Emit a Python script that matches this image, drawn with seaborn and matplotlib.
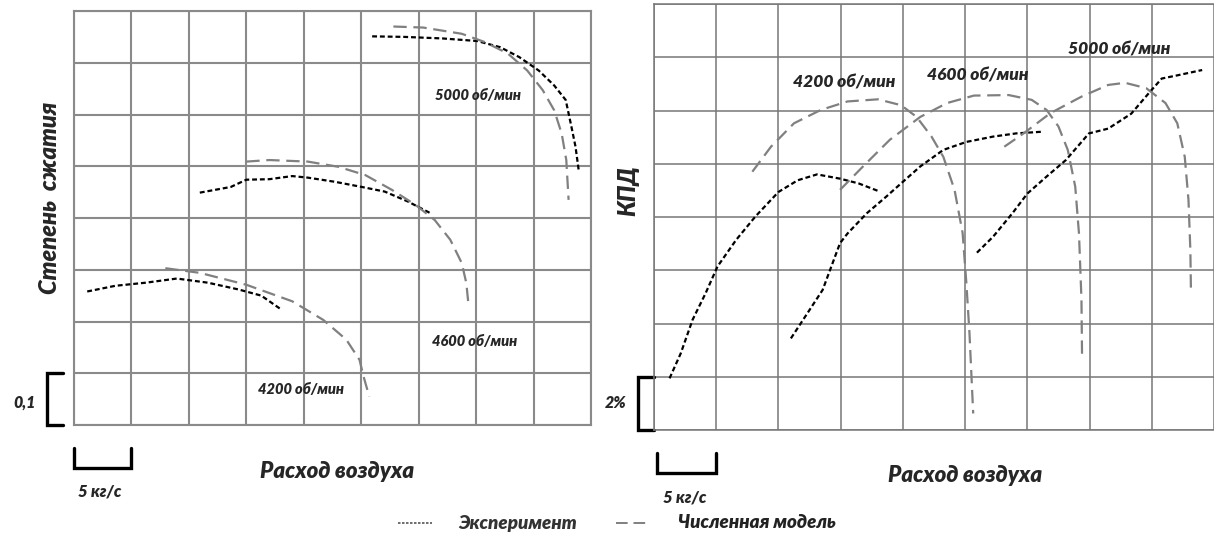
import numpy as np
import pandas as pd
import matplotlib
matplotlib.use("Agg")
import matplotlib.pyplot as plt
from matplotlib.lines import Line2D
import seaborn as sns

W, H = 1214, 540

# x: air flow in grid cells (1 cell = 5 kg/s)
# left y: pressure ratio in cells of 0.1, right y: efficiency in cells of 2 %
rpm_labels = ["4200 об/мин", "4600 об/мин", "5000 об/мин"]

# ---- pressure ratio (left panel)
pr_exp_4200_x = [0.23, 0.72, 1.25, 1.79, 2.33, 2.86, 3.26, 3.61]
pr_exp_4200_y = [2.58, 2.69, 2.75, 2.83, 2.75, 2.62, 2.50, 2.23]
pr_mod_4200_x = [1.59, 2.19, 3.00, 3.80, 4.34, 4.74, 4.97, 5.04, 5.14]
pr_mod_4200_y = [3.03, 2.94, 2.71, 2.39, 2.03, 1.65, 1.26, 0.94, 0.55]

pr_exp_4600_x = [2.19, 2.73, 3.00, 3.40, 3.80, 4.07, 4.54, 5.01, 5.41, 5.81, 6.21]
pr_exp_4600_y = [4.49, 4.60, 4.74, 4.75, 4.81, 4.78, 4.70, 4.60, 4.51, 4.32, 4.09]
pr_mod_4600_x = [3.00, 3.40, 4.07, 4.60, 5.07, 5.54, 5.95, 6.28, 6.55, 6.75, 6.83, 6.87]
pr_mod_4600_y = [5.09, 5.12, 5.09, 4.99, 4.83, 4.54, 4.25, 3.96, 3.58, 3.13, 2.74, 2.29]

pr_exp_5000_x = [5.19, 5.74, 6.41, 7.02, 7.42, 7.75, 8.09, 8.36, 8.56, 8.66, 8.73, 8.79]
pr_exp_5000_y = [7.51, 7.50, 7.47, 7.42, 7.30, 7.11, 6.85, 6.56, 6.28, 5.76, 5.38, 4.89]
pr_mod_5000_x = [5.56, 6.08, 6.75, 7.15, 7.55, 7.89, 8.16, 8.36, 8.49, 8.57, 8.61]
pr_mod_5000_y = [7.70, 7.68, 7.56, 7.40, 7.18, 6.85, 6.47, 6.08, 5.63, 5.12, 4.35]

# ---- efficiency (right panel)
eff_exp_4200_x = [0.25, 0.43, 0.62, 0.83, 1.02, 1.32, 1.63, 2.00, 2.31, 2.62, 2.99, 3.29, 3.60]
eff_exp_4200_y = [0.97, 1.44, 2.07, 2.57, 3.07, 3.57, 4.01, 4.47, 4.69, 4.80, 4.72, 4.63, 4.49]
eff_mod_4200_x = [1.58, 1.88, 2.25, 2.68, 3.11, 3.60, 3.97, 4.22, 4.46, 4.65, 4.83, 4.96, 5.02, 5.07, 5.13]
eff_mod_4200_y = [4.85, 5.32, 5.76, 6.01, 6.17, 6.21, 6.10, 5.88, 5.51, 5.13, 4.51, 3.70, 2.76, 1.82, 0.31]

eff_exp_4600_x = [2.20, 2.43, 2.71, 2.99, 3.11, 3.42, 3.73, 3.97, 4.28, 4.65, 5.02, 5.45, 5.82, 6.22]
eff_exp_4600_y = [1.72, 2.13, 2.63, 3.51, 3.69, 4.07, 4.38, 4.63, 4.95, 5.26, 5.41, 5.51, 5.57, 5.60]
eff_mod_4600_x = [2.99, 3.36, 3.79, 4.28, 4.71, 5.14, 5.70, 6.07, 6.31, 6.50, 6.65, 6.77, 6.83, 6.87, 6.88]
eff_mod_4600_y = [4.51, 4.95, 5.45, 5.88, 6.14, 6.28, 6.29, 6.20, 6.01, 5.70, 5.26, 4.57, 3.69, 2.45, 1.32]

eff_exp_5000_x = [5.19, 5.45, 5.76, 6.00, 6.31, 6.62, 6.99, 7.30, 7.67, 7.97, 8.16, 8.41, 8.81]
eff_exp_5000_y = [3.33, 3.63, 4.07, 4.44, 4.76, 5.07, 5.57, 5.66, 5.94, 6.35, 6.60, 6.66, 6.76]
eff_mod_5000_x = [5.63, 5.94, 6.37, 6.87, 7.30, 7.57, 7.91, 8.22, 8.41, 8.53, 8.59, 8.62, 8.63]
eff_mod_5000_y = [5.32, 5.57, 5.95, 6.26, 6.48, 6.52, 6.42, 6.14, 5.76, 5.13, 4.32, 3.38, 2.57]

STYLE = {
    "exp": dict(color="black", lw=1.6, linestyle=(0, (2.2, 1.3))),
    "mod": dict(color="#808080", lw=1.6, linestyle=(0, (6, 3))),
}

sns.set_style("white")
plt.rcParams["font.family"] = ["Lato", "DejaVu Sans"]

fig = plt.figure(figsize=(W / 100, H / 100), dpi=100)
ax1 = fig.add_axes([74 / W, 1 - 425 / H, 517 / W, 414 / H])
ax2 = fig.add_axes([654 / W, 1 - 430 / H, 560 / W, 426 / H])


def setup(ax, xmax, grid_lw, color):
    ax.set_xlim(0, xmax)
    ax.set_ylim(0, 8)
    ax.set_xticks(np.arange(0, 10))
    ax.set_yticks(np.arange(0, 9))
    ax.grid(True, color=color, lw=grid_lw)
    ax.tick_params(length=0, labelbottom=False, labelleft=False)
    for s in ax.spines.values():
        s.set_color(color)
        s.set_linewidth(grid_lw)


def curve(ax, x, y, kind):
    df = pd.DataFrame({"x": x, "y": y})
    sns.lineplot(data=df, x="x", y="y", sort=False, estimator=None, ax=ax, **STYLE[kind])
    ax.set_xlabel("")
    ax.set_ylabel("")


setup(ax1, 9, 1.5, "#8a8a8a")
setup(ax2, 8.94, 1.1, "#777777")
ax2.spines["right"].set_visible(False)

curve(ax1, pr_exp_4200_x, pr_exp_4200_y, "exp")
curve(ax1, pr_mod_4200_x, pr_mod_4200_y, "mod")
curve(ax1, pr_exp_4600_x, pr_exp_4600_y, "exp")
curve(ax1, pr_mod_4600_x, pr_mod_4600_y, "mod")
curve(ax1, pr_exp_5000_x, pr_exp_5000_y, "exp")
curve(ax1, pr_mod_5000_x, pr_mod_5000_y, "mod")

curve(ax2, eff_exp_4200_x, eff_exp_4200_y, "exp")
curve(ax2, eff_mod_4200_x, eff_mod_4200_y, "mod")
curve(ax2, eff_exp_4600_x, eff_exp_4600_y, "exp")
curve(ax2, eff_mod_4600_x, eff_mod_4600_y, "mod")
curve(ax2, eff_exp_5000_x, eff_exp_5000_y, "exp")
curve(ax2, eff_mod_5000_x, eff_mod_5000_y, "mod")

# speed labels
bi = dict(fontweight="heavy", style="italic", ha="center", va="center")
for (x, y), lab in zip([(3.95, 0.68), (6.98, 1.62), (7.03, 6.37)], rpm_labels):
    ax1.text(x, y, lab, fontsize=10.5, **bi)
for (x, y), lab in zip([(3.06, 6.52), (5.20, 6.66), (7.47, 7.15)], rpm_labels):
    ax2.text(x, y, lab, fontsize=12.5, **bi)

# scale brackets
kb = dict(color="black", lw=2.4, clip_on=False, solid_joinstyle="miter")
ax1.plot([-0.19, -0.47, -0.47, -0.19], [1, 1, 0, 0], **kb)
ax1.plot([0, 0, 1, 1], [-0.44, -0.83, -0.83, -0.44], **kb)
ax2.plot([0, -0.26, -0.26, 0], [1, 1, 0, 0], **kb)
ax2.plot([0.05, 0.05, 1.0, 1.0], [-0.43, -0.81, -0.81, -0.43], **kb)


def ftext(x, y, s, size, **kw):
    fig.text(x / W, 1 - y / H, s, fontsize=size, fontweight="heavy", style="italic",
             ha="center", va="center", **kw)


ftext(50, 198, "Степень  сжатия", 17, rotation=90)
ftext(628, 191, "КПД", 17, rotation=90)
ftext(25, 403, "0,1", 11.5)
ftext(616, 403, "2%", 11.5)
ftext(100, 492, "5 кг/с", 12)
ftext(685, 497, "5 кг/с", 12)
ftext(337, 472, "Расход воздуха", 16)
ftext(965, 475, "Расход воздуха", 16)

# legend
fig.add_artist(Line2D([398 / W, 432 / W], [1 - 523 / H] * 2, transform=fig.transFigure,
                      color="#555555", lw=1.2, linestyle=(0, (1.5, 0.9))))
fig.add_artist(Line2D([616 / W, 650 / W], [1 - 523 / H] * 2, transform=fig.transFigure,
                      color="#808080", lw=1.4, linestyle=(0, (6, 3))))
ftext(518, 523, "Эксперимент", 13.5, color="#333333")
ftext(757, 523, "Численная модель", 13.5, color="#222222")

fig.savefig("out.png", dpi=100, facecolor="white")
